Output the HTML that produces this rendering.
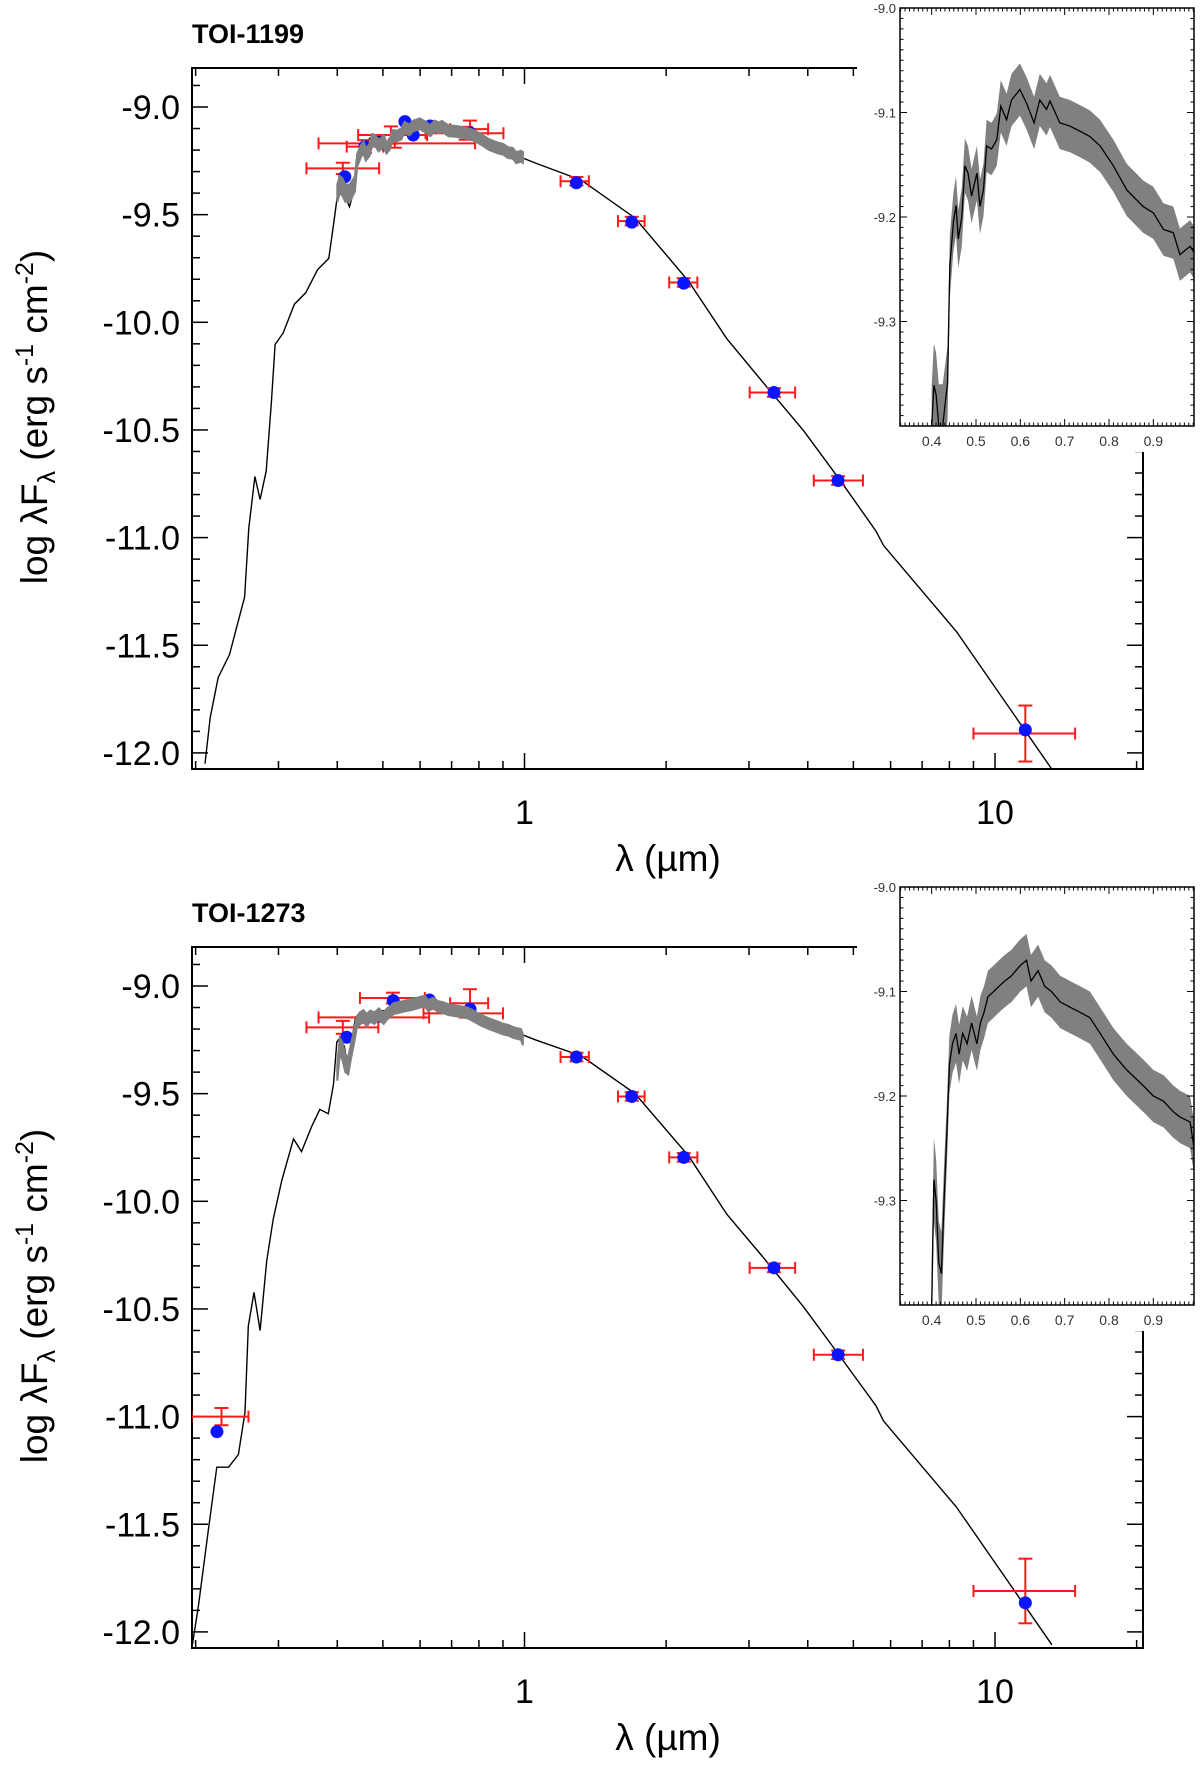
<!DOCTYPE html>
<html><head><meta charset="utf-8"><style>
html,body{margin:0;padding:0;background:#fff;}
svg{display:block;font-family:"Liberation Sans",sans-serif;}
</style></head><body>
<svg id="chart" width="1200" height="1768" viewBox="0 0 1200 1768" xmlns="http://www.w3.org/2000/svg"></svg>
<script>
// ---------- TOI-1199 data ----------
const top_modelLogWave = [-0.679,-0.668,-0.651,-0.627,-0.611,-0.595,-0.586,-0.573,-0.562,-0.549,-0.538,-0.530,-0.513,-0.489,-0.465,-0.440,-0.416,-0.404,-0.396,-0.386,-0.380,-0.372,-0.362,-0.351,-0.326,-0.286,-0.237,-0.196,-0.139,-0.058,0.023,0.121,0.235,0.349,0.430,0.511,0.593,0.674,0.747,0.763,0.918,1.121];
const top_modelFlux = [-12.05,-11.836,-11.65,-11.543,-11.41,-11.276,-10.956,-10.716,-10.823,-10.69,-10.37,-10.103,-10.05,-9.916,-9.863,-9.756,-9.703,-9.516,-9.383,-9.343,-9.423,-9.463,-9.383,-9.196,-9.14,-9.13,-9.09,-9.095,-9.12,-9.19,-9.26,-9.34,-9.516,-9.81,-10.076,-10.29,-10.503,-10.743,-10.97,-11.036,-11.436,-12.076];
const top_insetWave = [0.400,0.405,0.410,0.416,0.425,0.436,0.441,0.449,0.455,0.460,0.468,0.475,0.482,0.490,0.502,0.509,0.517,0.524,0.535,0.547,0.556,0.569,0.580,0.599,0.614,0.631,0.644,0.659,0.667,0.689,0.712,0.735,0.757,0.780,0.810,0.840,0.877,0.900,0.923,0.945,0.960,0.983,0.992];
const top_insetFlux = [-9.40,-9.361,-9.37,-9.40,-9.40,-9.358,-9.247,-9.205,-9.189,-9.221,-9.200,-9.151,-9.158,-9.180,-9.158,-9.190,-9.174,-9.132,-9.135,-9.126,-9.094,-9.107,-9.088,-9.078,-9.091,-9.110,-9.088,-9.097,-9.089,-9.110,-9.113,-9.118,-9.123,-9.132,-9.151,-9.174,-9.190,-9.196,-9.212,-9.215,-9.236,-9.228,-9.234];
const top_insetBand = [0.04,0.04,0.04,0.04,0.04,0.035,0.03,0.028,0.028,0.028,0.028,0.026,0.026,0.026,0.026,0.026,0.025,0.025,0.025,0.025,0.025,0.025,0.025,0.025,0.025,0.025,0.025,0.025,0.025,0.025,0.025,0.025,0.025,0.025,0.025,0.025,0.025,0.025,0.025,0.025,0.025,0.025,0.025];
const top_obsWave = [0.411,0.53,0.458,0.52,0.75,0.766,1.289,1.69,2.18,3.39,4.64,11.6];
const top_obsLo = [0.344,0.365,0.419,0.443,0.616,0.695,1.193,1.58,2.03,3.01,4.12,9.0];
const top_obsHi = [0.491,0.785,0.501,0.621,0.902,0.837,1.370,1.80,2.33,3.76,5.24,14.8];
const top_obsFlux = [-9.285,-9.169,-9.184,-9.13,-9.122,-9.103,-9.345,-9.53,-9.815,-10.326,-10.735,-11.91];
const top_obsErr = [0.026,0.02,0.03,0.04,0.03,0.04,0.02,0.02,0.02,0.02,0.02,0.13];
const top_synWave = [0.415,0.458,0.494,0.557,0.580,0.630,0.766,1.289,1.69,2.18,3.39,4.64,11.6];
const top_synFlux = [-9.324,-9.184,-9.169,-9.068,-9.130,-9.088,-9.12,-9.352,-9.535,-9.818,-10.326,-10.735,-11.893];

// ---------- TOI-1273 data ----------
const bot_modelLogWave = [-0.707,-0.693,-0.672,-0.654,-0.629,-0.608,-0.594,-0.587,-0.575,-0.562,-0.548,-0.534,-0.516,-0.491,-0.474,-0.452,-0.435,-0.417,-0.406,-0.399,-0.392,-0.383,-0.376,-0.369,-0.359,-0.346,-0.286,-0.237,-0.196,-0.139,-0.058,0.023,0.121,0.235,0.349,0.430,0.511,0.593,0.674,0.747,0.763,0.918,1.121];
const bot_modelFlux = [-12.075,-11.88,-11.528,-11.235,-11.235,-11.176,-10.98,-10.58,-10.423,-10.6,-10.277,-10.081,-9.905,-9.71,-9.769,-9.651,-9.573,-9.593,-9.456,-9.26,-9.241,-9.28,-9.368,-9.28,-9.143,-9.13,-9.11,-9.08,-9.085,-9.11,-9.18,-9.25,-9.325,-9.50,-9.79,-10.06,-10.27,-10.49,-10.73,-10.95,-11.02,-11.42,-12.06];
const bot_insetWave = [0.400,0.405,0.410,0.416,0.422,0.428,0.434,0.440,0.447,0.455,0.462,0.470,0.480,0.490,0.502,0.510,0.518,0.527,0.540,0.552,0.565,0.580,0.600,0.614,0.624,0.640,0.655,0.670,0.690,0.712,0.735,0.757,0.780,0.810,0.840,0.877,0.900,0.923,0.945,0.960,0.983,0.992];
const bot_insetFlux = [-9.40,-9.28,-9.30,-9.36,-9.37,-9.30,-9.24,-9.17,-9.15,-9.14,-9.16,-9.14,-9.15,-9.13,-9.15,-9.13,-9.12,-9.105,-9.10,-9.095,-9.09,-9.085,-9.075,-9.07,-9.09,-9.08,-9.095,-9.10,-9.11,-9.115,-9.12,-9.125,-9.14,-9.16,-9.175,-9.19,-9.20,-9.205,-9.215,-9.22,-9.225,-9.25];
const bot_insetBand = [0.04,0.04,0.04,0.04,0.04,0.035,0.03,0.028,0.028,0.028,0.028,0.026,0.026,0.026,0.026,0.026,0.025,0.025,0.025,0.025,0.025,0.025,0.025,0.025,0.025,0.025,0.025,0.025,0.025,0.025,0.025,0.025,0.025,0.025,0.025,0.025,0.025,0.025,0.025,0.025,0.025,0.025];
const bot_obsWave = [0.227,0.411,0.48,0.525,0.75,0.766,1.289,1.69,2.18,3.39,4.64,11.6];
const bot_obsLo = [0.196,0.344,0.365,0.447,0.61,0.695,1.193,1.58,2.03,3.01,4.12,9.0];
const bot_obsHi = [0.259,0.489,0.627,0.614,0.90,0.837,1.370,1.80,2.33,3.76,5.24,14.8];
const bot_obsFlux = [-11.0,-9.192,-9.146,-9.056,-9.127,-9.08,-9.33,-9.513,-9.796,-10.309,-10.713,-11.81];
const bot_obsErr = [0.04,0.03,0.02,0.025,0.02,0.065,0.02,0.02,0.02,0.02,0.02,0.15];
const bot_synWave = [0.222,0.419,0.491,0.526,0.628,0.766,1.289,1.69,2.18,3.39,4.64,11.6];
const bot_synFlux = [-11.07,-9.238,-9.138,-9.068,-9.065,-9.107,-9.33,-9.513,-9.796,-10.309,-10.713,-11.865];

const yTickVals = [-9.0,-9.5,-10.0,-10.5,-11.0,-11.5,-12.0];
const yTickLabels = ["-9.0","-9.5","-10.0","-10.5","-11.0","-11.5","-12.0"];
const xTickVals = [1,10];
const xTickLabels = ["1","10"];
const insetXTickVals = [0.4,0.5,0.6,0.7,0.8,0.9];
const insetXTickLabels = ["0.4","0.5","0.6","0.7","0.8","0.9"];
const insetYTickVals = [-9.0,-9.1,-9.2,-9.3];
const insetYTickLabels = ["-9.0","-9.1","-9.2","-9.3"];

const NS = "http://www.w3.org/2000/svg";
const svg = document.getElementById('chart');
function el(tag, attrs, parent) {
  const e = document.createElementNS(NS, tag);
  for (const k in attrs) e.setAttribute(k, attrs[k]);
  (parent || svg).appendChild(e);
  return e;
}

function drawPanel(off, title, mLog, mFlux, iW, iF, iB, oW, oLo, oHi, oF, oE, sW, sF, key) {
  const L = 192, R = 1143, T = 68 + off, B = 769 + off;
  const xS = lam => 524.5 + 470.5 * Math.log10(lam);
  const xL = lg => 524.5 + 470.5 * lg;
  const yS = f => 107 + off + (-9 - f) * 215.3;
  const g = el('g', {});
  
  
  const clipId = 'clip-' + key;
  const cp = el('clipPath', {id: clipId}, g);
  el('rect', {x: L, y: T, width: R - L, height: B - T}, cp);

  const t = el('text', {x: 192, y: 43 + off, 'font-size': 27, 'font-weight': 'bold'}, g);
  
  
  t.textContent = title;

  const fr = el('rect', {x: L, y: T, width: R - L, height: B - T, fill: 'none', stroke: '#000', 'stroke-width': 2}, g);
  
  

  for (let v = -12.0; v <= -8.85; v += 0.1) {
    const vv = Math.round(v * 10) / 10;
    const major = Math.abs(vv * 2 - Math.round(vv * 2)) < 1e-6;
    const len = major ? 16 : 8;
    const y = yS(vv);
    el('line', {x1: L, x2: L + len, y1: y, y2: y, stroke: '#000', 'stroke-width': 1.5}, g);
    el('line', {x1: R, x2: R - len, y1: y, y2: y, stroke: '#000', 'stroke-width': 1.5}, g);
  }
  yTickVals.forEach((v, i) => {
    const tx = el('text', {x: 180, y: yS(v) + 12, 'font-size': 34, 'text-anchor': 'end'}, g);
    
    
    tx.textContent = yTickLabels[i];
  });
  const minor = [0.2,0.3,0.4,0.5,0.6,0.7,0.8,0.9,2,3,4,5,6,7,8,9,20];
  minor.forEach(m => {
    const x = xS(m);
    if (x < L || x > R) return;
    el('line', {x1: x, x2: x, y1: B, y2: B - 8, stroke: '#000', 'stroke-width': 1.5}, g);
    el('line', {x1: x, x2: x, y1: T, y2: T + 8, stroke: '#000', 'stroke-width': 1.5}, g);
  });
  xTickVals.forEach((v, i) => {
    const x = xS(v);
    el('line', {x1: x, x2: x, y1: B, y2: B - 16, stroke: '#000', 'stroke-width': 1.5}, g);
    el('line', {x1: x, x2: x, y1: T, y2: T + 16, stroke: '#000', 'stroke-width': 1.5}, g);
    const tx = el('text', {x: x, y: B + 55, 'font-size': 34, 'text-anchor': 'middle'}, g);
    
    
    tx.textContent = xTickLabels[i];
  });
  const xt = el('text', {x: 668, y: B + 102, 'font-size': 37, 'text-anchor': 'middle'}, g);
  
  
  xt.textContent = 'λ (µm)';
  const yt = el('text', {x: 0, y: 0, 'font-size': 37, 'text-anchor': 'middle', transform: `translate(47,${417 + off}) rotate(-90)`}, g);
  
  
  yt.innerHTML = 'log λF<tspan font-size="25" dy="8">λ</tspan><tspan dy="-8"> (erg s</tspan><tspan font-size="25" dy="-14">-1</tspan><tspan dy="14"> cm</tspan><tspan font-size="25" dy="-14">-2</tspan><tspan dy="14">)</tspan>';

  const plot = el('g', {'clip-path': `url(#${clipId})`}, g);
  const mp = mLog.map((lg, i) => `${xL(lg).toFixed(1)},${yS(mFlux[i]).toFixed(1)}`).join(' ');
  const ml = el('polyline', {points: mp, fill: 'none', stroke: '#000', 'stroke-width': 1.4}, plot);
  
  
  oW.forEach((w, i) => {
    const eg = el('g', {stroke: '#ff1a1a', 'stroke-width': 2}, plot);
    
    
    const x1 = xS(oLo[i]), x2 = xS(oHi[i]), xc = xS(w), y = yS(oF[i]);
    const y1 = yS(oF[i] + oE[i]), y2 = yS(oF[i] - oE[i]);
    el('line', {x1: x1, x2: x2, y1: y, y2: y}, eg);
    el('line', {x1: x1, x2: x1, y1: y - 6, y2: y + 6}, eg);
    el('line', {x1: x2, x2: x2, y1: y - 6, y2: y + 6}, eg);
    el('line', {x1: xc, x2: xc, y1: y1, y2: y2}, eg);
    el('line', {x1: xc - 7, x2: xc + 7, y1: y1, y2: y1}, eg);
    el('line', {x1: xc - 7, x2: xc + 7, y1: y2, y2: y2}, eg);
  });
  sW.forEach((w, i) => {
    const c = el('circle', {cx: xS(w), cy: yS(sF[i]), r: 6.5, fill: '#0a14ff'}, plot);
    
    
  });
  const up = iW.map((w, i) => `${xS(w).toFixed(1)},${yS(iF[i] + iB[i]).toFixed(1)}`);
  const lo = iW.map((w, i) => `${xS(w).toFixed(1)},${yS(iF[i] - iB[i]).toFixed(1)}`).reverse();
  const bd = el('polygon', {points: up.concat(lo).join(' '), fill: '#808080', stroke: '#808080', 'stroke-width': 2}, plot);
  
  

  const cover = el('rect', {x: 857, y: off, width: 343, height: 452, fill: '#fff'}, g);
  
  
  const IL = 900, IR = 1194, IT = 8 + off, IB = 426 + off;
  const ix = w => IL + (w - 0.3286) / 0.6631 * (IR - IL);
  const iy = f => IT + (-9 - f) / 0.4 * (IB - IT);
  const ig = el('g', {}, g);
  
  
  const icp = el('clipPath', {id: clipId + 'i'}, ig);
  el('rect', {x: IL, y: IT, width: IR - IL, height: IB - IT}, icp);
  const ip = el('g', {'clip-path': `url(#${clipId}i)`}, ig);
  const iup = iW.map((w, i) => `${ix(w).toFixed(1)},${iy(iF[i] + iB[i]).toFixed(1)}`);
  const ilo = iW.map((w, i) => `${ix(w).toFixed(1)},${iy(iF[i] - iB[i]).toFixed(1)}`).reverse();
  const ib = el('polygon', {points: iup.concat(ilo).join(' '), fill: '#808080'}, ip);
  
  
  const il = el('polyline', {points: iW.map((w, i) => `${ix(w).toFixed(1)},${iy(iF[i]).toFixed(1)}`).join(' '), fill: 'none', stroke: '#000', 'stroke-width': 1.3}, ip);
  
  
  el('rect', {x: IL, y: IT, width: IR - IL, height: IB - IT, fill: 'none', stroke: '#000', 'stroke-width': 1.5}, ig);
  for (let k = 33; k <= 99; k++) {
    const w = k / 100, x = ix(w);
    const len = (k % 10 === 0) ? 7 : 3.5;
    el('line', {x1: x, x2: x, y1: IB, y2: IB - len, stroke: '#000', 'stroke-width': 1}, ig);
    el('line', {x1: x, x2: x, y1: IT, y2: IT + len, stroke: '#000', 'stroke-width': 1}, ig);
  }
  for (let k = 0; k <= 40; k++) {
    const y = iy(-9 - k / 100);
    const len = (k % 10 === 0) ? 7 : 3.5;
    el('line', {x1: IL, x2: IL + len, y1: y, y2: y, stroke: '#000', 'stroke-width': 1}, ig);
    el('line', {x1: IR, x2: IR - len, y1: y, y2: y, stroke: '#000', 'stroke-width': 1}, ig);
  }
  insetXTickVals.forEach((v, i) => {
    const tx = el('text', {x: ix(v), y: IB + 20, 'font-size': 14, 'text-anchor': 'middle', fill: '#333'}, ig);
    
    
    tx.textContent = insetXTickLabels[i];
  });
  insetYTickVals.forEach((v, i) => {
    const tx = el('text', {x: IL - 4, y: iy(v) + 5, 'font-size': 13, 'text-anchor': 'end', fill: '#333'}, ig);
    
    
    tx.textContent = insetYTickLabels[i];
  });
}

drawPanel(0, 'TOI-1199', top_modelLogWave, top_modelFlux, top_insetWave, top_insetFlux, top_insetBand,
  top_obsWave, top_obsLo, top_obsHi, top_obsFlux, top_obsErr, top_synWave, top_synFlux, 'toi1199');
drawPanel(879, 'TOI-1273', bot_modelLogWave, bot_modelFlux, bot_insetWave, bot_insetFlux, bot_insetBand,
  bot_obsWave, bot_obsLo, bot_obsHi, bot_obsFlux, bot_obsErr, bot_synWave, bot_synFlux, 'toi1273');
</script>
</body></html>
